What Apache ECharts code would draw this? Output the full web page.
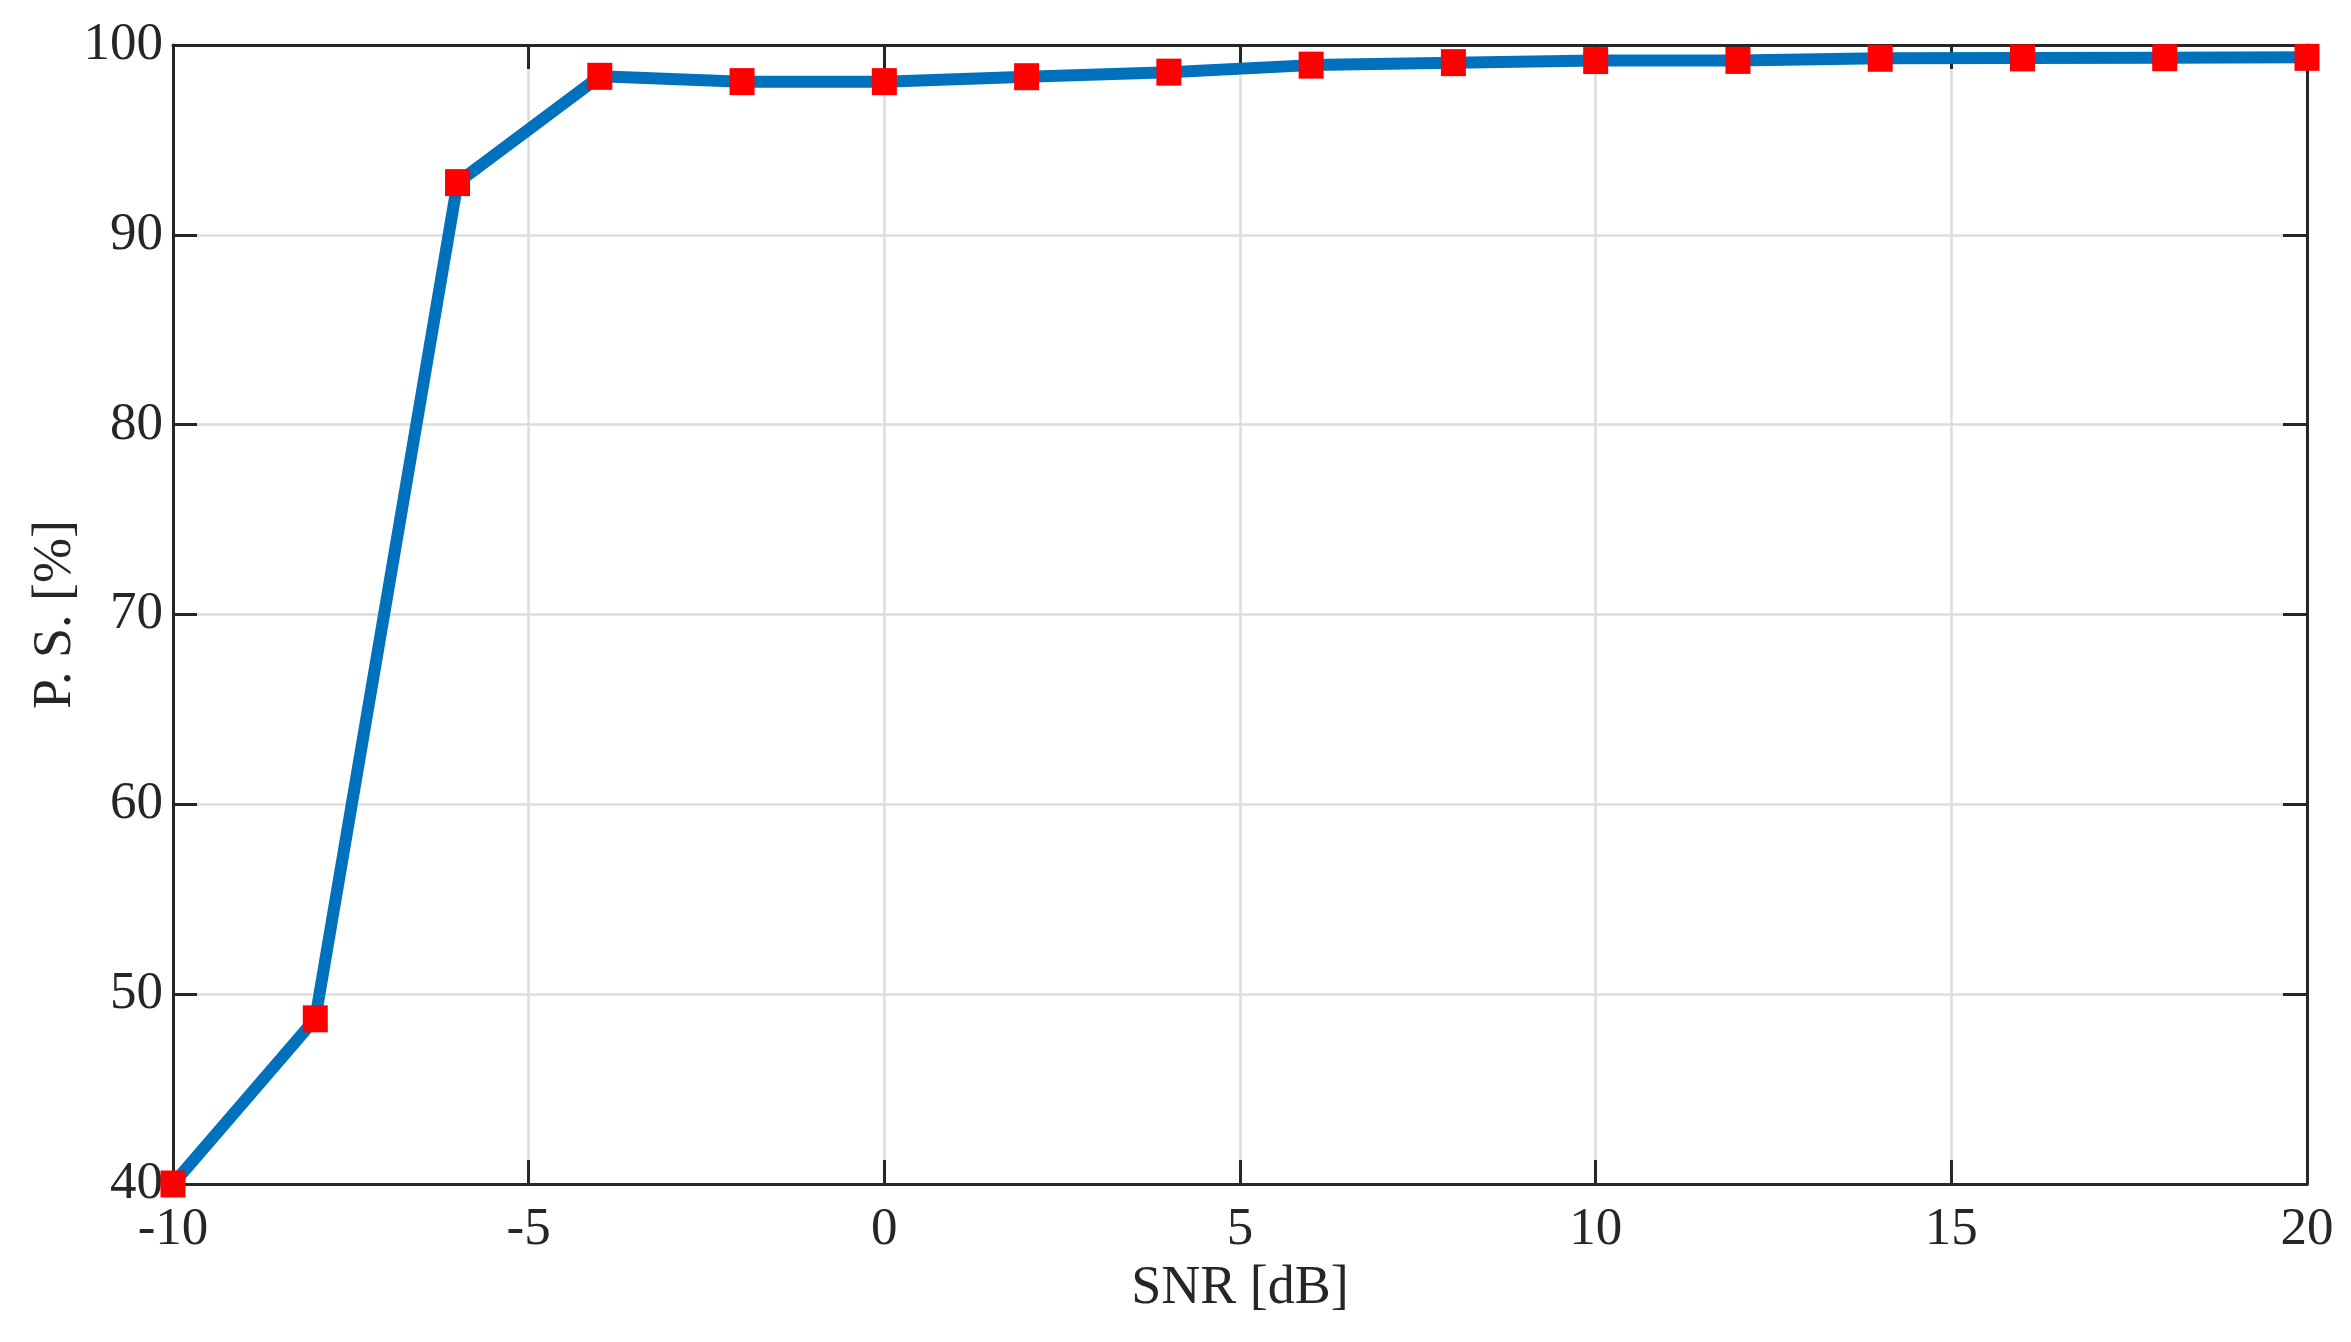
<!DOCTYPE html>
<html>
<head>
<meta charset="utf-8">
<script src="https://cdn.jsdelivr.net/npm/echarts@6/dist/echarts.min.js"></script>
<style>
html,body{margin:0;padding:0;background:#fff;}
#chart{width:2351px;height:1342px;}
</style>
</head>
<body>
<div id="chart"></div>
<script>
const snr = [-10, -8, -6, -4, -2, 0, 2, 4, 6, 8, 10, 12, 14, 16, 18, 20];
const ps = [40, 48.7, 92.75, 98.35, 98.07, 98.07, 98.33, 98.57, 98.94, 99.07, 99.18, 99.19, 99.3, 99.32, 99.33, 99.35];
const xTicks = [-10, -5, 0, 5, 10, 15, 20];
const yTicks = [40, 50, 60, 70, 80, 90, 100];

const pts = snr.map((x, i) => [x, ps[i]]);
const font = 'Liberation Serif';
const ink = '#262626';

const chart = echarts.init(document.getElementById('chart'));
const axisCommon = {
  axisLine: {show: true, onZero: false, lineStyle: {color: ink, width: 3}},
  axisTick: {show: true, inside: true, length: 24, lineStyle: {color: ink, width: 3}},
  splitLine: {show: false}
};
chart.setOption({
  animation: false,
  backgroundColor: '#ffffff',
  grid: {left: 173, right: 44, top: 45, bottom: 158, containLabel: false},
  xAxis: [
    Object.assign({}, axisCommon, {
      type: 'value', position: 'bottom',
      min: xTicks[0], max: xTicks[xTicks.length - 1], interval: 5,
      name: 'SNR [dB]', nameLocation: 'middle', nameGap: 78,
      nameMoveOverlap: false,
      nameTextStyle: {fontFamily: font, fontSize: 54, color: ink},
      axisLabel: {show: true, margin: 20, fontFamily: font, fontSize: 53, color: ink},
      splitLine: {show: true, lineStyle: {color: '#dcdcdc', width: 2.5}}
    }),
    Object.assign({}, axisCommon, {
      type: 'value', position: 'top',
      min: xTicks[0], max: xTicks[xTicks.length - 1], interval: 5,
      axisLabel: {show: false}
    })
  ],
  yAxis: [
    Object.assign({}, axisCommon, {
      type: 'value', position: 'left',
      min: yTicks[0], max: yTicks[yTicks.length - 1], interval: 10,
      name: 'P. S. [%]', nameLocation: 'middle', nameGap: 90,
      nameMoveOverlap: false,
      nameTextStyle: {fontFamily: font, fontSize: 54, color: ink},
      axisLabel: {show: true, margin: 10, fontFamily: font, fontSize: 53, color: ink},
      splitLine: {show: true, lineStyle: {color: '#dcdcdc', width: 2.5}}
    }),
    Object.assign({}, axisCommon, {
      type: 'value', position: 'right',
      min: yTicks[0], max: yTicks[yTicks.length - 1], interval: 10,
      axisLabel: {show: false}
    })
  ],
  series: [
    {
      type: 'line', data: pts, xAxisIndex: 0, yAxisIndex: 0,
      showSymbol: false, symbol: 'none',
      lineStyle: {color: '#0072BD', width: 12, join: 'round'},
      z: 2
    },
    {
      type: 'scatter', data: pts, xAxisIndex: 0, yAxisIndex: 0,
      symbol: 'rect', symbolSize: [25, 27],
      itemStyle: {color: '#FF0000', opacity: 1},
      z: 5
    }
  ]
});
</script>
</body>
</html>
